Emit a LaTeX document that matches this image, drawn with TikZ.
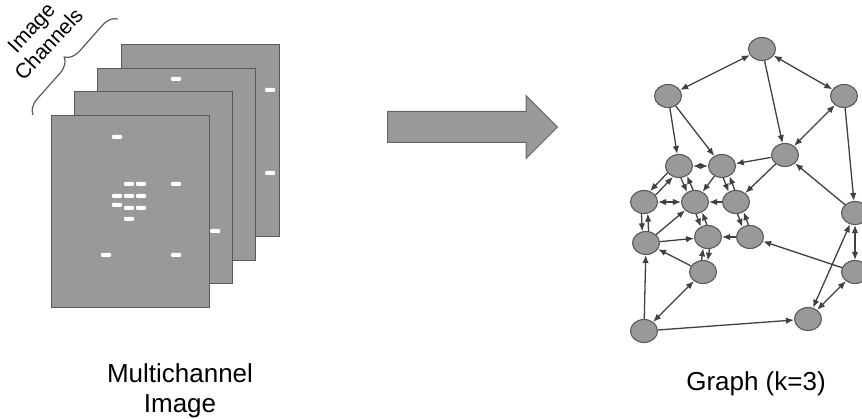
\documentclass[tikz,border=0pt]{standalone}
\usepackage{fontspec}
\setmainfont{Liberation Sans}
\usetikzlibrary{arrows.meta, shapes.geometric, shapes.arrows, decorations.pathreplacing}

\definecolor{panelgray}{HTML}{999999}
\definecolor{rimgray}{HTML}{5A5A5A}
\definecolor{edgegray}{HTML}{404040}

\begin{document}
\begin{tikzpicture}[
  x=1pt, y=-1pt,
  channel/.style={rectangle, draw=rimgray, fill=panelgray, line width=1.3pt,
                  minimum width=158pt, minimum height=192pt, anchor=north west, inner sep=0pt},
  pixel/.style={rectangle, rounded corners=1pt, fill=white, minimum width=10pt,
                minimum height=4pt, inner sep=0pt},
  vert/.style={ellipse, draw=rimgray, fill=panelgray, line width=1.1pt,
               minimum width=27pt, minimum height=23pt, inner sep=0pt},
  arr/.style={-{Latex[length=8pt, width=6.5pt]}, line width=1.3pt, edgegray},
  darr/.style={{Latex[length=8pt, width=6.5pt]}-{Latex[length=8pt, width=6.5pt]}, line width=1.3pt, edgegray},
  bigarrow/.style={single arrow, draw=black!60, fill=panelgray, line width=1pt,
                   minimum height=170pt, minimum width=62pt, single arrow head extend=16pt,
                   inner xsep=0pt, inner ysep=15pt, anchor=tail},
  caption/.style={font=\fontsize{26}{30}\selectfont, align=center, inner sep=0pt},
  brace/.style={decorate, decoration={brace, amplitude=15pt}, line width=1.2pt, rimgray}
]
  \useasboundingbox (0,0) rectangle (862,419);

  % image channels, back to front
  \node[channel] (ch4) at (121,44)  {};
  \node[channel] (ch3) at (97,68)   {};
  \node[channel] (ch2) at (74,91)   {};
  \node[channel] (ch1) at (51,115)  {};

  \foreach \x/\y [count=\n] in {270/90, 270/173, 176/79, 215/231,
      117/137, 129/184, 141/184, 176/184, 117/196, 129/196, 141/196,
      117/205, 129/208, 141/208, 129/219, 106/255, 176/255}
    \node[pixel] (px\n) at (\x,\y) {};

  \coordinate (braceLo) at (33,115);
  \coordinate (braceHi) at (118,19);
  \draw[brace] (braceLo) -- (braceHi);
  \node[font=\fontsize{21}{24}\selectfont, align=center, rotate=47] (chlabel) at (40,36) {Image\\Channels};

  \node[caption, anchor=base] (imgcap) at (180,413) {Multichannel\\Image};

  % transform arrow
  \node[bigarrow] (trans) at (387,127) {};

  % graph
  \node[vert] (a) at (762,49)  {};
  \node[vert] (b) at (668,96)  {};
  \node[vert] (c) at (844,96)  {};
  \node[vert] (d) at (785,155) {};
  \node[vert] (e) at (679,166) {};
  \node[vert] (f) at (722,166) {};
  \node[vert] (g) at (644,202) {};
  \node[vert] (h) at (695,202) {};
  \node[vert] (i) at (736,202) {};
  \node[vert] (j) at (855,213) {};
  \node[vert] (k) at (646,243) {};
  \node[vert] (l) at (708,237) {};
  \node[vert] (m) at (750,237) {};
  \node[vert] (n) at (703,272) {};
  \node[vert] (o) at (855,272) {};
  \node[vert] (p) at (644,331) {};
  \node[vert] (q) at (808,319) {};

  \draw[darr] (a) -- (b);
  \draw[darr] (a) -- (c);
  \draw[arr] (a) -- (d);
  \draw[arr] (b) -- (e);
  \draw[arr] (b) -- (f);
  \draw[darr] (c) -- (d);
  \draw[arr] (c) -- (j);
  \draw[arr] (d) -- (f);
  \draw[arr] (d) -- (i);
  \draw[arr] (j) -- (d);
  \draw[darr] (e) -- (f);
  \draw[arr] (e.-149) -- (g.61);
  \draw[arr] (g.31) -- (e.-119);
  \draw[arr] (e.-81) -- (h.129);
  \draw[arr] (h.99) -- (e.-51);
  \draw[arr] (f) -- (h);
  \draw[arr] (f.-84) -- (i.126);
  \draw[arr] (i.96) -- (f.-54);
  \draw[darr] (g) -- (h);
  \draw[arr] (i) -- (h);
  \draw[arr] (g.-102) -- (k.108);
  \draw[arr] (k.78) -- (g.-72);
  \draw[arr] (k) -- (h);
  \draw[arr] (k) -- (l);
  \draw[arr] (m) -- (l);
  \draw[arr] (h.-85) -- (l.125);
  \draw[arr] (l.95) -- (h.-55);
  \draw[arr] (i.-83) -- (m.127);
  \draw[arr] (m.97) -- (i.-53);
  \draw[arr] (n.97) -- (l.-113);
  \draw[arr] (l.-83) -- (n.67);
  \draw[arr] (n) -- (k);
  \draw[arr] (p) -- (k);
  \draw[darr] (p) -- (n);
  \draw[arr] (p) -- (q);
  \draw[arr] (o) -- (m);
  \draw[darr] (j) -- (o);
  \draw[darr] (j) -- (q);
  \draw[darr] (o) -- (q);

  \node[caption, anchor=base] (graphcap) at (756,391) {Graph (k=3)};
\end{tikzpicture}
\end{document}
